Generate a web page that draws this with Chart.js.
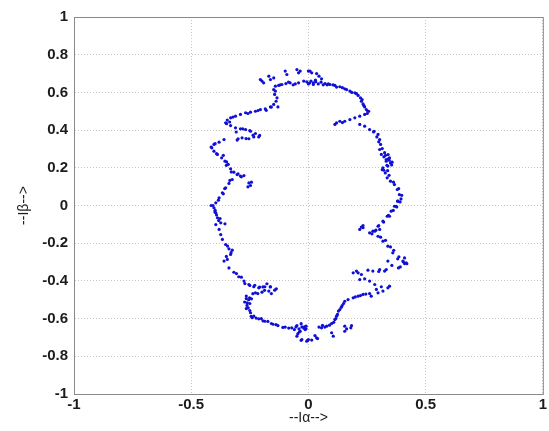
<!DOCTYPE html>
<html>
<head>
<meta charset="utf-8">
<script src="https://cdn.jsdelivr.net/npm/chart.js@4.4.1/dist/chart.umd.min.js"></script>
<style>
  body { margin: 0; background: #fff; }
  #wrap { width: 549px; height: 431px; }
</style>
</head>
<body>
<div id="wrap"><canvas id="chart" width="549" height="431"></canvas></div>
<script>
// stator current components
const ialpha = [
    -0.198,-0.191,-0.205,-0.169,-0.162,-0.148,-0.099,-0.092,-0.049,-0.042,0.000,0.014,0.035,0.045,0.056,
    -0.148,-0.141,-0.127,-0.113,-0.096,-0.078,-0.056,-0.042,-0.007,0.000,0.011,0.021,0.031,0.042,0.054,0.071,0.092,0.113,0.134,0.155,0.177,0.198,0.212,0.222,0.226,0.233,0.240,0.247,0.257,0.251,
    -0.035,0.007,0.021,0.063,0.085,0.120,0.163,0.205,0.229,0.236,
    -0.120,-0.085,-0.065,-0.020,0.005,0.030,0.080,0.105,0.145,0.185,
    0.113,0.134,0.155,0.177,0.198,0.219,0.240,0.254,0.219,0.240,0.261,0.280,0.120,0.145,
    0.297,0.304,0.308,0.304,0.311,0.322,0.332,0.346,0.350,0.339,0.318,0.328,0.336,0.350,0.367,0.379,0.388,0.395,0.381,0.374,
    0.325,0.340,0.332,0.345,0.315,0.338,0.355,
    0.278,0.292,0.300,0.315,0.329,0.341,0.357,0.335,0.322,0.344,0.363,0.385,0.398,0.391,0.377,0.362,0.341,0.321,0.300,0.288,0.271,0.308,0.329,0.350,0.364,0.386,0.405,0.420,0.392,0.226,0.233,
    -0.141,-0.144,-0.134,-0.138,-0.148,-0.162,-0.184,-0.205,-0.226,-0.247,-0.268,-0.290,-0.311,-0.332,-0.346,-0.353,
    -0.332,-0.311,-0.290,-0.268,-0.247,-0.226,-0.212,-0.233,-0.254,-0.283,-0.304,
    -0.360,-0.381,-0.403,-0.412,-0.403,-0.388,-0.370,-0.356,-0.342,-0.332,-0.318,-0.304,-0.290,-0.275,-0.254,-0.247,-0.325,-0.339,-0.353,-0.367,-0.381,-0.395,-0.403,-0.395,-0.388,-0.374,
    -0.322,-0.336,-0.349,-0.258,-0.215,-0.180,-0.158,-0.130,-0.308,-0.280,-0.250,-0.236,-0.208,-0.300,-0.266,-0.398,-0.415,-0.392,-0.363,-0.349,-0.350,-0.329,-0.300,-0.286,-0.243,-0.258,-0.335,-0.357,-0.363,-0.384,-0.407,-0.399,-0.377,-0.356,
    -0.415,-0.398,-0.392,-0.383,-0.395,-0.381,-0.374,-0.367,-0.353,-0.339,-0.325,-0.332,-0.346,-0.360,-0.339,-0.318,-0.297,-0.275,-0.254,-0.233,-0.212,-0.186,-0.162,-0.144,-0.169,-0.198,-0.226,-0.251,-0.261,-0.257,-0.247,-0.233,-0.212,-0.186,-0.158,-0.130,-0.099,-0.071,-0.049,-0.028,
    -0.345,-0.330,-0.350,-0.265,-0.255,-0.262,-0.240,
    -0.307,-0.286,-0.271,-0.250,-0.229,-0.208,-0.194,-0.177,-0.163,-0.137,-0.158,-0.187,-0.216,-0.237,-0.265,-0.272,-0.265,-0.250,-0.244,-0.223,-0.194,-0.173,-0.151,-0.138,-0.109,-0.084,-0.060,-0.053,-0.031,-0.017,-0.010,-0.039,-0.045,-0.031,-0.003,0.039,0.060,-0.250,-0.243,-0.201,
    -0.014,-0.035,-0.049,-0.028,-0.007,0.014,0.035,-0.020,0.000,-0.040,0.028,-0.010,
    0.056,0.078,0.099,0.113,0.124,0.134,0.144,0.155,0.169,0.191,0.212,0.233,0.261,0.155,0.181,0.099,0.106,0.155,0.184,
    0.120,0.128,0.070,0.045,0.163,
    0.140,0.150,0.117,0.108,0.090,0.200,0.222,0.245,0.290,0.300,
    0.191,0.205,0.226,0.254,0.275,0.304,0.325,0.240,0.261,0.283,0.311,0.339,0.318,0.297,0.268,
    0.212,0.219,0.332,0.346,
    0.381,0.367,0.353,0.336,0.318,0.297,0.283,0.261,0.233,0.219,0.297,0.318,0.339,0.360,0.381,0.403,0.410,0.384,0.356,0.339,
    0.417,0.410,0.275,0.304,0.346
];
const ibeta = [
    0.660,0.651,0.668,0.686,0.668,0.677,0.713,0.695,0.721,0.704,0.713,0.704,0.700,0.686,0.672,
    0.615,0.633,0.637,0.642,0.647,0.651,0.645,0.651,0.656,0.645,0.660,0.651,0.656,0.645,0.654,0.647,0.642,0.637,0.630,0.619,0.607,0.598,0.584,0.571,0.553,0.539,0.523,0.509,0.500,0.488,
    0.713,0.713,0.642,0.640,0.645,0.628,0.615,0.593,0.562,0.531,
    0.640,0.655,0.640,0.660,0.650,0.665,0.640,0.640,0.625,0.600,
    0.430,0.447,0.447,0.456,0.465,0.474,0.483,0.500,0.430,0.421,0.403,0.394,0.438,0.440,
    0.377,0.350,0.324,0.297,0.271,0.258,0.244,0.253,0.226,0.209,0.200,0.173,0.147,0.129,0.111,0.085,0.058,0.035,0.023,-0.004,
    0.280,0.270,0.235,0.240,0.190,0.185,0.215,
    0.390,0.364,0.338,0.302,0.266,0.248,0.230,0.213,0.187,0.160,0.124,0.090,0.054,0.019,-0.008,-0.026,-0.052,-0.088,-0.106,-0.131,-0.150,-0.168,-0.185,-0.220,-0.238,-0.272,-0.299,-0.309,-0.326,-0.114,-0.106,
    0.607,0.589,0.571,0.553,0.536,0.523,0.513,0.509,0.500,0.495,0.492,0.483,0.474,0.465,0.453,0.439,
    0.424,0.412,0.407,0.403,0.394,0.382,0.364,0.364,0.354,0.359,0.347,
    0.350,0.336,0.324,0.306,0.288,0.271,0.253,0.235,0.218,0.195,0.177,0.164,0.156,0.159,0.120,0.106,0.138,0.117,0.094,0.067,0.041,0.014,-0.012,-0.039,-0.065,-0.092,
    0.469,0.443,0.434,0.488,0.504,0.505,0.522,0.523,0.390,0.407,0.398,0.373,0.372,0.354,0.355,0.328,0.310,0.275,0.266,0.231,0.213,0.178,0.168,0.152,0.124,0.099,0.133,0.090,0.062,0.028,0.000,-0.035,-0.069,-0.097,
    0.000,-0.025,-0.050,-0.080,-0.101,-0.127,-0.154,-0.180,-0.207,-0.230,-0.237,-0.260,-0.286,-0.295,-0.331,-0.354,-0.378,-0.401,-0.419,-0.431,-0.437,-0.431,-0.431,-0.449,-0.454,-0.460,-0.463,-0.490,-0.516,-0.543,-0.569,-0.587,-0.601,-0.614,-0.626,-0.637,-0.645,-0.649,-0.637,-0.644,
    -0.215,-0.250,-0.270,-0.480,-0.500,-0.530,-0.595,
    -0.361,-0.380,-0.414,-0.424,-0.423,-0.433,-0.432,-0.415,-0.432,-0.442,-0.467,-0.450,-0.467,-0.468,-0.494,-0.512,-0.547,-0.557,-0.588,-0.597,-0.612,-0.615,-0.630,-0.632,-0.647,-0.650,-0.658,-0.644,-0.627,-0.644,-0.654,-0.671,-0.680,-0.715,-0.716,-0.706,-0.636,-0.520,-0.495,-0.600,
    -0.658,-0.667,-0.693,-0.711,-0.720,-0.714,-0.702,-0.650,-0.711,-0.655,-0.690,-0.640,
    -0.649,-0.640,-0.626,-0.605,-0.578,-0.552,-0.531,-0.508,-0.499,-0.490,-0.481,-0.472,-0.467,-0.640,-0.649,-0.675,-0.693,-0.667,-0.637,
    -0.587,-0.560,-0.645,-0.645,-0.655,
    -0.540,-0.520,-0.600,-0.620,-0.635,-0.485,-0.478,-0.470,-0.445,-0.350,
    -0.357,-0.348,-0.366,-0.343,-0.348,-0.340,-0.348,-0.389,-0.401,-0.419,-0.431,-0.437,-0.454,-0.463,-0.481,
    -0.357,-0.393,-0.340,-0.428,
    0.023,-0.004,-0.030,-0.057,-0.083,-0.110,-0.136,-0.145,-0.118,-0.127,-0.163,-0.189,-0.216,-0.251,-0.283,-0.295,-0.308,-0.331,-0.318,-0.295,
    -0.304,-0.278,-0.136,-0.127,-0.057
];

const xTickStep = 0.5;
const yTickStep = 0.2;
const axisMin = -1;
const axisMax = 1;

const tickFont = { family: "'Liberation Sans', Arial, sans-serif", size: 15, weight: "bold" };
const titleFont = { family: "'Liberation Sans', Arial, sans-serif", size: 14 };
const gridColor = "#c4c4c4";
const frameColor = "#8a8a8a";

function fmt(v) {
    return String(Number(v.toFixed(1)));
}

// box around the plot area, like the matlab axes
const framePlugin = {
    id: "frame",
    afterDraw(chart) {
        const a = chart.chartArea;
        const ctx = chart.ctx;
        ctx.save();
        ctx.strokeStyle = frameColor;
        ctx.lineWidth = 1;
        ctx.strokeRect(a.left + 0.5, a.top + 0.5, a.right - a.left, a.bottom - a.top);
        ctx.restore();
    }
};

const points = ialpha.map((a, i) => ({ x: a, y: ibeta[i] }));

new Chart(document.getElementById("chart"), {
    type: "scatter",
    data: {
        datasets: [{
            data: points,
            backgroundColor: "#1010d4",
            borderWidth: 0,
            pointRadius: 1.6,
            pointHoverRadius: 1.6
        }]
    },
    options: {
        responsive: false,
        animation: false,
        layout: { padding: { top: 17, right: 2, left: 0, bottom: 0 } },
        plugins: {
            legend: { display: false },
            tooltip: { enabled: false }
        },
        scales: {
            x: {
                type: "linear",
                min: axisMin,
                max: axisMax,
                afterFit: s => { s.height = 37; },
                ticks: { stepSize: xTickStep, callback: fmt, font: tickFont, color: "#1c1c1c", padding: 2, maxRotation: 0 },
                grid: { color: gridColor, drawTicks: false },
                border: { display: true, color: frameColor, dash: [1, 2] },
                title: { display: true, text: "--Iα-->", font: titleFont, color: "#1c1c1c", padding: { top: 0, bottom: 4 } }
            },
            y: {
                type: "linear",
                min: axisMin,
                max: axisMax,
                afterFit: s => { s.width = 74; },
                ticks: { stepSize: yTickStep, callback: fmt, font: tickFont, color: "#1c1c1c", padding: 6 },
                grid: { color: gridColor, drawTicks: false },
                border: { display: true, color: frameColor, dash: [1, 2] },
                title: { display: true, text: "--Iβ-->", font: titleFont, color: "#1c1c1c", padding: { top: 16, bottom: 0 } }
            }
        }
    },
    plugins: [framePlugin]
});
</script>
</body>
</html>
